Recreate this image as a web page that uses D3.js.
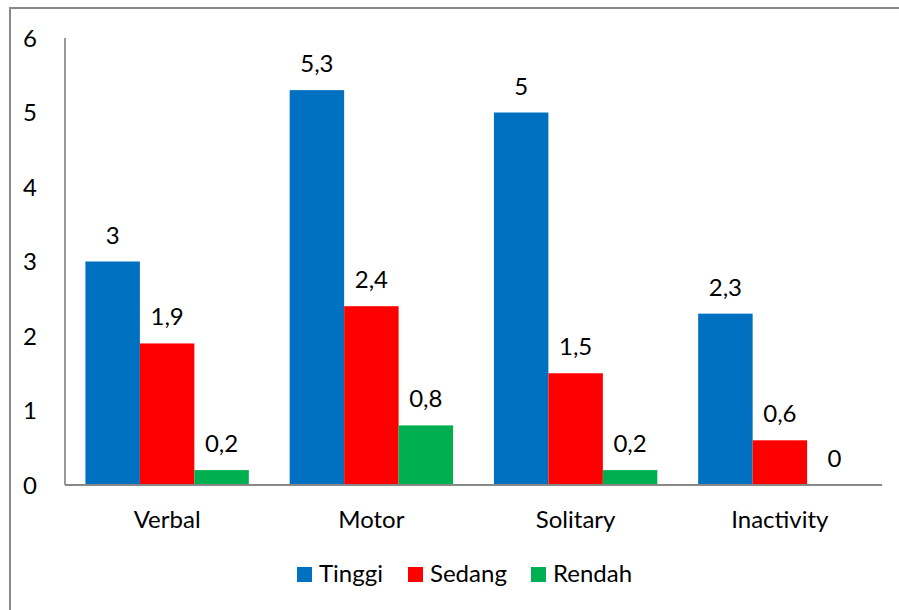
<!DOCTYPE html>
<html>
<head>
<meta charset="utf-8">
<script src="https://cdn.jsdelivr.net/npm/d3@7"></script>
<style>
  body { margin: 0; background: #fff; }
  svg text { font-family: Lato, "Noto Sans", sans-serif; fill: #000; }
</style>
</head>
<body>
<svg width="899" height="610"></svg>
<script>
// Chart data
const categories = ["Verbal", "Motor", "Solitary", "Inactivity"];
const series = ["Tinggi", "Sedang", "Rendah"];
const tinggi = [3, 5.3, 5, 2.3];
const sedang = [1.9, 2.4, 1.5, 0.6];
const rendah = [0.2, 0.8, 0.2, 0];
const yTicks = [0, 1, 2, 3, 4, 5, 6];

const colors = { Tinggi: "#0070C0", Sedang: "#FF0000", Rendah: "#00B050" };
const values = { Tinggi: tinggi, Sedang: sedang, Rendah: rendah };

const svg = d3.select("svg");
const fontSize = 24;

// Outer frame
svg.append("rect")
  .attr("x", 10).attr("y", 8)
  .attr("width", 900).attr("height", 620)
  .attr("fill", "none")
  .attr("stroke", "#898989")
  .attr("stroke-width", 2);

// Scales
const x0 = d3.scaleBand().domain(categories).range([65, 882]).padding(0);
const x1 = d3.scaleBand().domain(series).range([0, x0.bandwidth()])
  .paddingInner(0).paddingOuter(0.375);
const y = d3.scaleLinear().domain([0, 6]).range([485, 38]);

// Y axis line and labels
svg.append("line")
  .attr("x1", 65).attr("x2", 65)
  .attr("y1", y(6)).attr("y2", y(0))
  .attr("stroke", "#999").attr("stroke-width", 2);

svg.append("g").selectAll("text")
  .data(yTicks)
  .enter()
  .append("text")
  .attr("x", 30)
  .attr("y", d => y(d))
  .attr("dy", "0.36em")
  .attr("text-anchor", "middle")
  .attr("font-size", fontSize)
  .text(d => d);

// Bars
const groups = svg.append("g").selectAll("g")
  .data(categories)
  .enter()
  .append("g")
  .attr("transform", d => `translate(${x0(d)},0)`);

groups.selectAll("rect")
  .data((c, i) => series.map(s => ({ s, v: values[s][i] })))
  .enter()
  .append("rect")
  .attr("x", d => x1(d.s))
  .attr("y", d => y(d.v))
  .attr("width", x1.bandwidth())
  .attr("height", d => y(0) - y(d.v))
  .attr("fill", d => colors[d.s]);

// Value labels
groups.selectAll("text")
  .data((c, i) => series.map(s => ({ s, v: values[s][i] })))
  .enter()
  .append("text")
  .attr("x", d => x1(d.s) + x1.bandwidth() / 2)
  .attr("y", d => y(d.v) - 18)
  .attr("text-anchor", "middle")
  .attr("font-size", fontSize)
  .text(d => String(d.v).replace(".", ","));

// X axis line
svg.append("line")
  .attr("x1", 65).attr("x2", 882)
  .attr("y1", y(0)).attr("y2", y(0))
  .attr("stroke", "#888").attr("stroke-width", 2);

// Category labels
svg.append("g").selectAll("text")
  .data(categories)
  .enter()
  .append("text")
  .attr("x", d => x0(d) + x0.bandwidth() / 2)
  .attr("y", 528)
  .attr("text-anchor", "middle")
  .attr("font-size", fontSize)
  .text(d => d);

// Legend
const legendX = [297, 408, 531];
const legend = svg.append("g").selectAll("g")
  .data(series)
  .enter()
  .append("g")
  .attr("transform", (d, i) => `translate(${legendX[i]},567)`);

legend.append("rect")
  .attr("width", 15).attr("height", 15)
  .attr("fill", d => colors[d]);

legend.append("text")
  .attr("x", 22)
  .attr("y", 15)
  .attr("font-size", fontSize)
  .text(d => d);
</script>
</body>
</html>
